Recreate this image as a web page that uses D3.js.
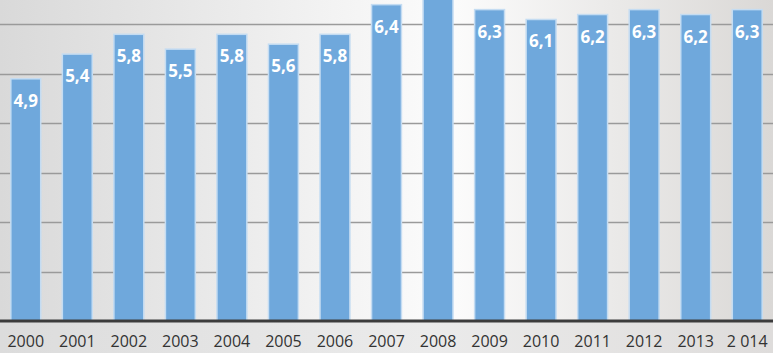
<!DOCTYPE html>
<html>
<head>
<meta charset="utf-8">
<script src="https://cdn.jsdelivr.net/npm/d3@7"></script>
<style>
  html, body { margin: 0; padding: 0; background: #e6e6e6; }
  svg { display: block; }
</style>
</head>
<body>
<div class="container"></div>
<script>
const WIDTH = 773;
const HEIGHT = 353;
const BASE_Y = 321;
const TOP_Y = -25;

var years = ['2000', '2001', '2002', '2003', '2004', '2005', '2006', '2007',
    '2008', '2009', '2010', '2011', '2012', '2013', '2014'];
var yearLabels = ['2000', '2001', '2002', '2003', '2004', '2005', '2006', '2007',
    '2008', '2009', '2010', '2011', '2012', '2013', '2 014'];
var values = [4.9, 5.4, 5.8, 5.5, 5.8, 5.6, 5.8, 6.4, 7.2, 6.3, 6.1, 6.2, 6.3, 6.2, 6.3];
var gridValues = [1, 2, 3, 4, 5, 6];

var _xScale = d3.scaleBand()
    .domain(years)
    .range([0, WIDTH])
    .paddingInner(0.42)
    .paddingOuter(0.21);

var _yScale = d3.scaleLinear()
    .domain([0, 7])
    .range([BASE_Y, TOP_Y]);

var _svg = d3.select('.container').append('svg')
    .attr('width', WIDTH)
    .attr('height', HEIGHT);

var defs = _svg.append('defs');
var bg = defs.append('linearGradient').attr('id', 'bg').attr('x1', 0).attr('x2', 1).attr('y1', 0).attr('y2', 0);
bg.append('stop').attr('offset', '0%').attr('stop-color', '#d9d9d9');
bg.append('stop').attr('offset', '58%').attr('stop-color', '#fcfcfc');
bg.append('stop').attr('offset', '100%').attr('stop-color', '#dad8d6');

var bottomBg = defs.append('linearGradient').attr('id', 'bottomBg').attr('x1', 0).attr('x2', 1).attr('y1', 0).attr('y2', 0);
bottomBg.append('stop').attr('offset', '0%').attr('stop-color', '#dcdcdc');
bottomBg.append('stop').attr('offset', '55%').attr('stop-color', '#ebebeb');
bottomBg.append('stop').attr('offset', '100%').attr('stop-color', '#dedcdb');

// background
_svg.append('rect').attr('width', WIDTH).attr('height', BASE_Y).attr('fill', 'url(#bg)');
_svg.append('rect').attr('y', BASE_Y).attr('width', WIDTH).attr('height', HEIGHT - BASE_Y).attr('fill', 'url(#bottomBg)');

// gridlines
_svg.append('g').selectAll('line')
    .data(gridValues)
    .enter().append('line')
    .attr('x1', 0)
    .attr('x2', WIDTH)
    .attr('y1', function (d) { return Math.round(_yScale(d)) + 0.5; })
    .attr('y2', function (d) { return Math.round(_yScale(d)) + 0.5; })
    .attr('stroke', '#9a9a9a')
    .attr('stroke-width', 1.3);

// bars
_svg.append('g').selectAll('rect')
    .data(values)
    .enter().append('rect')
    .attr('x', function (d, i) { return _xScale(years[i]); })
    .attr('y', function (d) { return _yScale(d); })
    .attr('width', _xScale.bandwidth())
    .attr('height', function (d) { return BASE_Y - _yScale(d); })
    .attr('fill', '#6fa8dc')
    .attr('stroke', '#c4dcf2')
    .attr('stroke-width', 1.5);

// value labels (the one whose bar runs off the top is not visible)
var labelData = values.map(function (d, i) { return {year: years[i], value: d}; })
    .filter(function (d) { return _yScale(d.value) + 28 - 14 > 0; });

_svg.append('g').selectAll('text')
    .data(labelData)
    .enter().append('text')
    .attr('x', function (d) { return _xScale(d.year) + _xScale.bandwidth() / 2; })
    .attr('y', function (d) { return _yScale(d.value) + 28; })
    .attr('text-anchor', 'middle')
    .attr('fill', '#ffffff')
    .attr('font-family', 'Open Sans, sans-serif')
    .attr('font-weight', 'bold')
    .attr('font-size', '17px')
    .text(function (d) { return d3.format('.1f')(d.value).replace('.', ','); });

// axis line
_svg.append('line')
    .attr('x1', 0).attr('x2', WIDTH)
    .attr('y1', BASE_Y).attr('y2', BASE_Y)
    .attr('stroke', '#3c3c3c')
    .attr('stroke-width', 3);

// x axis labels
var xAxis = d3.axisBottom(_xScale)
    .tickSize(0)
    .tickPadding(0)
    .tickFormat(function (d, i) { return yearLabels[i]; });

var axisG = _svg.append('g')
    .attr('transform', 'translate(0,' + (BASE_Y + 15) + ')')
    .call(xAxis);
axisG.select('.domain').remove();
axisG.selectAll('text')
    .attr('fill', '#333333')
    .attr('font-family', 'Open Sans, sans-serif')
    .attr('font-size', '16px');
</script>
</body>
</html>
